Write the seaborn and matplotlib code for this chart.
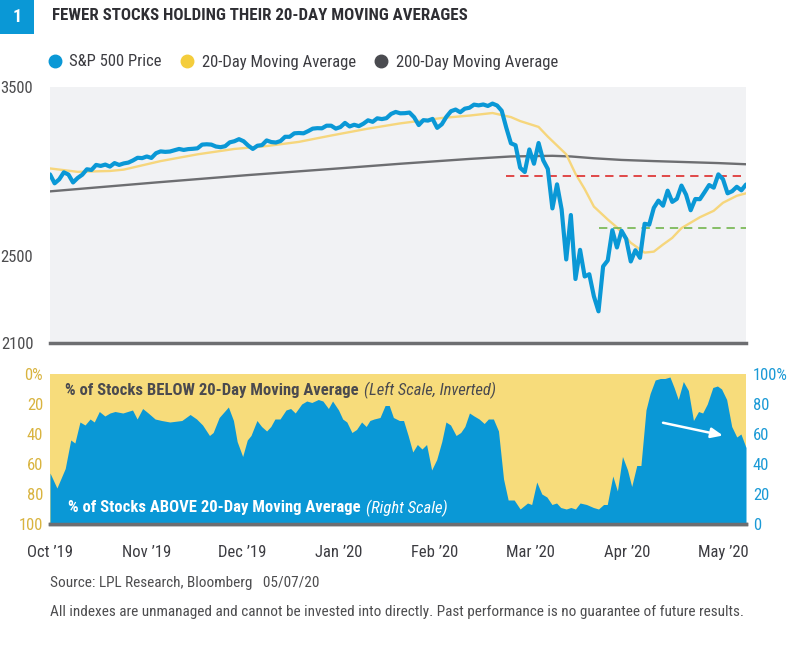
import numpy as np
import pandas as pd
import matplotlib
matplotlib.use("Agg")
import matplotlib.pyplot as plt
from matplotlib.lines import Line2D
from matplotlib.patches import Rectangle
from matplotlib.ticker import NullLocator
import seaborn as sns

# trading days Oct 1 2019 - May 7 2020 (NYSE holidays removed)
holidays = ["2019-11-28", "2019-12-25", "2020-01-01", "2020-01-20", "2020-02-17", "2020-04-10"]
dates = pd.bdate_range("2019-10-01", "2020-05-07")
dates = dates[~dates.isin(pd.to_datetime(holidays))]
trade_day = np.arange(len(dates))

# S&P 500 daily close
spx = [
    2940, 2888, 2911, 2952, 2939, 2893, 2919, 2938, 2970, 2966, 2996, 2990, 2998, 2986, 3007, 2996,
    3005, 3010, 3023, 3039, 3037, 3047, 3038,
    3067, 3078, 3075, 3077, 3085, 3093, 3087, 3092, 3094, 3097, 3120, 3122, 3120, 3108, 3104, 3110,
    3134, 3141, 3154, 3141,
    3114, 3093, 3113, 3117, 3146, 3136, 3133, 3142, 3169, 3169, 3191, 3193, 3191, 3205, 3221, 3224,
    3223, 3240, 3240, 3221, 3231,
    3258, 3235, 3246, 3237, 3253, 3275, 3265, 3288, 3283, 3289, 3317, 3330, 3321, 3322, 3326, 3295,
    3244, 3276, 3273, 3284, 3226,
    3249, 3298, 3335, 3346, 3328, 3352, 3358, 3379, 3374, 3380, 3370, 3386, 3373, 3338, 3226, 3128,
    3116, 2979, 2954,
    3090, 3003, 3130, 3024, 2972, 2747, 2882, 2741, 2481, 2711, 2386, 2529, 2398, 2409, 2305, 2237,
    2447, 2476, 2630, 2541, 2627, 2585,
    2471, 2527, 2489, 2664, 2659, 2750, 2790, 2762, 2846, 2783, 2800, 2875, 2823, 2737, 2799, 2798,
    2837, 2878, 2863, 2940, 2912,
    2831, 2843, 2868, 2848, 2881,
]

# 20-day moving average (read at selected days)
ma20_day = [0, 6, 13, 16, 24, 32, 40, 47, 54, 61, 69, 76, 85, 91, 96, 100, 102, 106, 108, 112,
            114, 116, 118, 121, 123, 126, 129, 131, 133, 135, 137, 141, 144, 146, 149, 151]
ma20 = [2975, 2955, 2960, 2968, 3019, 3060, 3093, 3111, 3137, 3177, 3221, 3255, 3290, 3306, 3323,
        3296, 3270, 3232, 3170, 3060, 2944, 2855, 2757, 2687, 2645, 2565, 2515, 2520, 2556, 2590,
        2641, 2699, 2734, 2778, 2817, 2831]

# 200-day moving average
ma200_day = [0, 23, 43, 64, 76, 91, 100, 109, 113, 118, 124, 131, 138, 145, 151]
ma200 = [2842, 2893, 2936, 2978, 3003, 3032, 3047, 3051, 3047, 3036, 3026, 3019, 3013, 3007, 3000]

# dashed reference levels
resistance_level, resistance_from = 2930, 99
support_level, support_from = 2640, 119

# % of stocks above their 20-day moving average
breadth_day = [
    0.0, 1.5, 3.3, 4.5, 5.4, 6.5, 7.6, 8.7, 9.6, 10.7,
    11.9, 13.0, 14.1, 15.8, 17.9, 18.9, 20.1, 21.3, 22.8, 24.2,
    26.0, 28.6, 30.4, 31.8, 33.1, 34.6, 35.4, 36.7, 38.7, 39.8,
    40.6, 41.8, 42.8, 43.6, 44.9, 45.9, 47.0, 47.9, 48.8, 49.9,
    51.2, 52.2, 53.2, 54.6, 55.7, 56.8, 58.2, 59.2, 60.4, 61.3,
    62.6, 63.5, 64.4, 65.5, 66.5, 67.6, 68.6, 69.4, 70.3, 71.6,
    72.7, 73.6, 74.5, 75.8, 76.7, 77.7, 78.7, 79.7, 80.7, 81.7,
    82.8, 83.9, 85.0, 85.9, 86.9, 88.1, 89.1, 90.0, 91.0, 92.0,
    93.1, 94.2, 95.1, 96.2, 97.3, 98.4, 99.4, 100.7, 102.0, 103.6,
    104.5, 105.6, 106.7, 107.8, 108.9, 109.9, 110.8, 112.0, 113.0, 114.0,
    115.0, 116.4, 117.9, 119.0, 120.1, 120.9, 122.1, 123.1, 124.2, 125.3,
    126.2, 127.3, 128.2, 129.3, 130.2, 131.3, 132.4, 133.4, 134.5, 135.4,
    136.3, 137.4, 138.5, 139.6, 140.7, 141.6, 142.6, 143.8, 144.8, 145.7,
    146.8, 147.9, 149.0, 149.9, 151.0,
]
breadth_pct = [
    34, 24, 37, 56, 54, 68, 66, 70, 68, 75,
    72, 74, 75, 74, 76, 70, 77, 74, 70, 69,
    68, 69, 73, 70, 66, 59, 61, 71, 78, 69,
    55, 45, 56, 59, 69, 65, 62, 65, 70, 70,
    76, 77, 74, 80, 82, 81, 83, 82, 77, 82,
    76, 70, 68, 61, 63, 68, 65, 69, 70, 71,
    79, 79, 71, 69, 69, 59, 48, 53, 50, 53,
    36, 43, 55, 68, 66, 59, 61, 65, 74, 72,
    70, 67, 70, 70, 62, 30, 16, 16, 10, 14,
    13, 28, 20, 18, 13, 14, 11, 10, 11, 10,
    14, 13, 11, 10, 13, 13, 32, 22, 45, 36,
    25, 39, 39, 76, 87, 96, 97, 97, 98, 91,
    83, 95, 89, 69, 75, 74, 80, 91, 92, 90,
    83, 65, 58, 60, 51,
]
arrow_from = (133, 67.5)
arrow_to = (146, 59)

month_labels = ["Oct \u201919", "Nov \u201919", "Dec \u201919", "Jan \u201920",
                "Feb \u201920", "Mar \u201920", "Apr \u201920", "May \u201920"]

BLUE = "#0A98D6"
YELLOW_LINE = "#F6D67C"
YELLOW_DOT = "#F4CD3C"
GRAY = "#6D6E71"
FILL_YELLOW = "#F7DC7B"
PANEL_BG = "#F1F2F4"
TEXT = "#3C3C41"
GOLD = "#D9B440"

sns.set_style("white")
plt.rcParams["font.family"] = ["Roboto Condensed", "DejaVu Sans"]

W, H = 788, 645
fig = plt.figure(figsize=(W / 100, H / 100), dpi=100)


def frame(left, top, right, bottom):
    return [left / W, 1 - bottom / H, (right - left) / W, (bottom - top) / H]


# ---- top panel: price and moving averages
ax1 = fig.add_axes(frame(50, 87, 746, 343))
ax1.set_facecolor(PANEL_BG)
sns.lineplot(x=ma200_day, y=ma200, ax=ax1, color=GRAY, linewidth=1.7)
sns.lineplot(x=ma20_day, y=ma20, ax=ax1, color=YELLOW_LINE, linewidth=1.7)
ax1.hlines(resistance_level, resistance_from, trade_day[-1], colors="#DD2B2B",
           linestyles=(0, (5, 3.5)), linewidth=1.2)
ax1.hlines(support_level, support_from, trade_day[-1], colors="#74B54E",
           linestyles=(0, (5, 3.5)), linewidth=1.2)
sns.lineplot(x=trade_day, y=spx, ax=ax1, color=BLUE, linewidth=3)
ax1.set_yscale("log")
ax1.set_ylim(2100, 3500)
ax1.set_xlim(0, trade_day[-1])
ax1.set_yticks([2100, 2500, 3500])
ax1.set_yticklabels(["2100", "2500", "3500"])
ax1.yaxis.set_minor_locator(NullLocator())
ax1.set_xticks([])
ax1.tick_params(axis="y", length=0, pad=12, labelsize=12, labelcolor="#4D4D4F")
ax1.set_xlabel("")
ax1.set_ylabel("")
for side in ["top", "left", "right"]:
    ax1.spines[side].set_visible(False)
ax1.spines["bottom"].set_color(GRAY)
ax1.spines["bottom"].set_linewidth(2.5)

# ---- bottom panel: breadth
ax2 = fig.add_axes(frame(50, 374, 746, 524))
ax2.set_facecolor(FILL_YELLOW)
ax2.set_xlim(0, trade_day[-1])
ax2.set_ylim(100, 0)
ax2.set_yticks([0, 20, 40, 60, 80, 100])
ax2.set_yticklabels(["0%", "20", "40", "60", "80", "100"])
ax2.tick_params(axis="y", length=0, pad=5, labelsize=12, labelcolor=GOLD)
ax2.set_xticks(np.linspace(0, 146, len(month_labels)))
ax2.set_xticklabels(month_labels)
ax2.tick_params(axis="x", length=0, pad=15, labelsize=12, labelcolor=TEXT)

ax2r = ax2.twinx()
ax2r.fill_between(breadth_day, 0, breadth_pct, color=BLUE, linewidth=0)
ax2r.set_ylim(0, 100)
ax2r.set_yticks([0, 20, 40, 60, 80, 100])
ax2r.set_yticklabels(["0", "20", "40", "60", "80", "100%"])
ax2r.tick_params(axis="y", length=0, pad=5, labelsize=12, labelcolor="#1B9AD6")
for a in (ax2, ax2r):
    for side in ["top", "left", "right"]:
        a.spines[side].set_visible(False)
    a.spines["bottom"].set_color(GRAY)
    a.spines["bottom"].set_linewidth(2.5)

t_below = ax2r.text(0.0216, 0.893, "% of Stocks BELOW 20-Day Moving Average", transform=ax2r.transAxes,
                    fontsize=12, fontweight="bold", color="#4A4A4F", va="center", ha="left")
ax2r.annotate("(Left Scale, Inverted)", xy=(1, 0.5), xycoords=t_below, xytext=(4, 0),
              textcoords="offset points", va="center", ha="left", fontsize=12,
              fontstyle="italic", color="#4A4A4F")
t_above = ax2r.text(0.0259, 0.107, "% of Stocks ABOVE 20-Day Moving Average", transform=ax2r.transAxes,
                    fontsize=12, fontweight="bold", color="white", va="center", ha="left")
ax2r.annotate("(Right Scale)", xy=(1, 0.5), xycoords=t_above, xytext=(4, 0),
              textcoords="offset points", va="center", ha="left", fontsize=12,
              fontstyle="italic", color="white")
ax2r.annotate("", xy=arrow_to, xytext=arrow_from,
              arrowprops=dict(arrowstyle="-|>,head_length=0.7,head_width=0.3", color="white",
                              lw=1.8, shrinkA=0, shrinkB=0))

# ---- title, legend, footer
fig.add_artist(Rectangle((0, 1 - 34 / H), 34 / W, 34 / H, transform=fig.transFigure,
                         color=BLUE, linewidth=0))
fig.text(17 / W, 1 - 17 / H, "1", color="white", fontsize=13, fontweight="bold",
         ha="center", va="center")
fig.text(52 / W, 1 - 16 / H, "FEWER STOCKS HOLDING THEIR 20-DAY MOVING AVERAGES",
         color="#2E2E33", fontsize=12.2, fontweight="bold", ha="left", va="center")

handles = [
    Line2D([], [], marker="o", linestyle="", markersize=9, color=BLUE),
    Line2D([], [], marker="o", linestyle="", markersize=9, color=YELLOW_DOT),
    Line2D([], [], marker="o", linestyle="", markersize=9, color="#4A4B50"),
]
fig.legend(handles, ["S&P 500 Price", "20-Day Moving Average", "200-Day Moving Average"],
           loc="center left", bbox_to_anchor=(49 / W, 1 - 62 / H), ncol=3, frameon=False,
           handlelength=0.7, handletextpad=0.5, columnspacing=1.2, fontsize=12,
           borderaxespad=0, borderpad=0, labelcolor=TEXT)

fig.text(50 / W, 1 - 583 / H, "Source: LPL Research, Bloomberg   05/07/20",
         color="#4D4D4F", fontsize=11, ha="left", va="center")
fig.text(50 / W, 1 - 612 / H,
         "All indexes are unmanaged and cannot be invested into directly. "
         "Past performance is no guarantee of future results.",
         color="#4D4D4F", fontsize=11, ha="left", va="center")

fig.savefig("out.png", dpi=100)
